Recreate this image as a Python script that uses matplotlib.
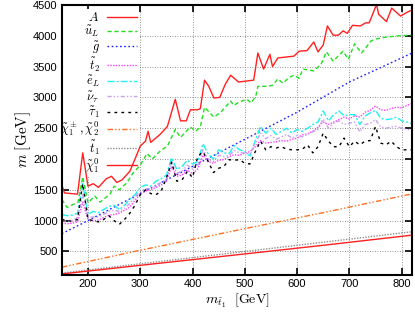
import numpy as np
import matplotlib
matplotlib.use("Agg")
import matplotlib.pyplot as plt

plt.rcParams['font.family'] = ['Liberation Sans', 'DejaVu Sans']
plt.rcParams['mathtext.fontset'] = 'cm'

# A (heavy Higgs)
x_A = [150, 155, 180, 190, 200, 210, 220, 235, 245, 255, 265, 280, 290, 300, 310,
       315, 320, 338, 352, 367, 377, 388, 396, 410, 415, 423, 431, 441, 452, 463,
       473, 488, 517, 525, 536, 548, 553, 563, 594, 604, 619, 632, 640, 650, 658,
       669, 679, 688, 696, 706, 721, 731, 738, 752, 756, 771, 781, 798, 810, 820]
m_A = [1580, 1450, 1430, 2100, 1560, 1600, 1540, 1680, 1720, 1620, 1660, 1800, 2000, 2210, 2290,
       2450, 2270, 2400, 2530, 2970, 2620, 2620, 2800, 2800, 2820, 3280, 3180, 2990, 3000, 3220,
       3360, 3250, 3280, 3720, 3460, 3700, 3500, 3640, 3670, 3750, 3760, 3900, 3740, 3850, 4160,
       4010, 4010, 4080, 4040, 4170, 4160, 4210, 4210, 4510, 4350, 4230, 4450, 4320, 4380, 4420]

# u_L
x_uL = [150, 160, 181, 190, 200, 213, 223, 242, 250, 260, 275, 285, 300, 313, 323,
        338, 352, 367, 377, 396, 406, 415, 423, 441, 454, 473, 479, 488, 504, 512,
        521, 525, 544, 554, 563, 573, 584, 594, 604, 611, 632, 646, 656, 669, 688,
        698, 710, 723, 742, 752, 771, 794, 820]
m_uL = [1345, 1215, 1300, 1710, 1290, 1400, 1300, 1430, 1560, 1500, 1620, 1760, 1900, 2090, 2000,
        2130, 2210, 2480, 2350, 2520, 2450, 2520, 2840, 2680, 2760, 2940, 2870, 2920, 2970, 2910,
        3020, 3180, 3180, 3200, 3300, 3230, 3320, 3360, 3310, 3460, 3430, 3540, 3740, 3590, 3750,
        3620, 3870, 3720, 3920, 3950, 3980, 4000, 4010]

# gluino
x_g = [150, 200, 300, 400, 500, 600, 700, 820]
m_g = [790, 1000, 1440, 1880, 2320, 2760, 3250, 3720]

# common grid for the slepton / stop2 band
x_mid = list(range(150, 830, 10))
m_t2 = [960, 950, 960, 980, 1300, 1020, 1000, 1010, 1050, 1090, 1100, 1120, 1170, 1220, 1330,
        1430, 1480, 1500, 1540, 1580, 1640, 1880, 1720, 1740, 1820, 1760, 1840, 2060, 1960, 1930,
        1980, 1990, 2040, 2070, 2060, 2100, 2120, 2200, 2300, 2260, 2270, 2280, 2300, 2290, 2320,
        2340, 2390, 2410, 2450, 2520, 2600, 2560, 2600, 2640, 2680, 2650, 2700, 2680, 2760, 2790,
        2860, 2800, 2790, 2820, 2840, 2830, 2870, 2900]
m_eL = [1100, 1080, 1090, 1120, 1600, 1100, 1150, 1130, 1180, 1230, 1250, 1180, 1250, 1350, 1420,
        1540, 1580, 1560, 1640, 1680, 1740, 2020, 1830, 1880, 1980, 1920, 1960, 2250, 2080, 2000,
        2150, 2100, 2090, 2220, 2150, 2120, 2050, 2300, 2530, 2420, 2500, 2400, 2450, 2500, 2420,
        2480, 2450, 2500, 2560, 2600, 2780, 2620, 2720, 2780, 2700, 2720, 2720, 2560, 2700, 2750,
        2790, 2660, 2640, 2650, 2680, 2620, 2600, 2580]
m_nu = [1000, 990, 1000, 1050, 1420, 1050, 1060, 1060, 1100, 1150, 1170, 1150, 1200, 1280, 1380,
        1480, 1520, 1520, 1580, 1620, 1680, 1950, 1770, 1800, 1900, 1840, 1900, 2150, 2000, 1960,
        2060, 2040, 2060, 2140, 2100, 2100, 2080, 2250, 2420, 2330, 2380, 2320, 2360, 2400, 2340,
        2380, 2360, 2400, 2440, 2480, 2650, 2500, 2580, 2620, 2560, 2580, 2600, 2440, 2560, 2580,
        2640, 2520, 2500, 2520, 2530, 2500, 2480, 2470]
m_tau = [1020, 1000, 990, 1020, 1600, 1020, 1000, 980, 1020, 1080, 1000, 940, 1020, 1120, 1250,
         1420, 1500, 1440, 1420, 1480, 1690, 1950, 1640, 1660, 1800, 1700, 2040, 2120, 1960, 1780,
         1850, 1880, 1990, 1980, 1990, 1930, 1920, 2120, 2290, 2150, 2200, 2180, 2200, 2160, 2150,
         2150, 2160, 2230, 2100, 2200, 2420, 2290, 2200, 2200, 2340, 2200, 2290, 2230, 2290, 2300,
         2530, 2260, 2230, 2290, 2200, 2150, 2150, 2150]

# light states
x_low = [150, 300, 500, 650, 820]
m_chipm = [245, 520, 870, 1130, 1435]
m_t1 = [150, 300, 500, 650, 820]
m_chi0 = [135, 275, 460, 600, 765]

fig = plt.figure(figsize=(4.15, 3.12), dpi=100)
ax = fig.add_axes([0.149, 0.119, 0.844, 0.865])

ax.plot(x_A, m_A, color='#ff2020', lw=1.0, label=r'$A$')
ax.plot(x_uL, m_uL, color='#20e020', lw=1.0, ls=(0, (3, 2)), label=r'$\tilde{u}_L$')
ax.plot(x_g, m_g, color='#2020ff', lw=1.0, ls=(0, (1.2, 1.8)), label=r'$\tilde{g}$')
ax.plot(x_mid, m_t2, color='#ff40ff', lw=1.0, ls=(0, (1, 1)), label=r'$\tilde{t}_2$')
ax.plot(x_mid, m_eL, color='#20f0f0', lw=1.0, ls=(0, (5, 1.5, 1.5, 1.5)), label=r'$\tilde{e}_L$')
ax.plot(x_mid, m_nu, color='#c8a0f0', lw=1.0, ls=(0, (3, 1.5, 1, 1.5, 1, 1.5)), label=r'$\tilde{\nu}_\tau$')
ax.plot(x_mid, m_tau, color='black', lw=1.0, ls=(0, (2, 3)), label=r'$\tilde{\tau}_1$')
ax.plot(x_low, m_chipm, color='#ff7020', lw=1.0, ls=(0, (4, 1.5, 1, 1.5, 1, 1.5)),
        label=r'$\tilde{\chi}_1^\pm, \tilde{\chi}_2^0$')
ax.plot(x_low, m_t1, color='#909090', lw=1.0, ls=(0, (1, 1)), label=r'$\tilde{t}_1$')
ax.plot(x_low, m_chi0, color='#ff2020', lw=1.0, label=r'$\tilde{\chi}_1^0$')

ax.set_xlim(150, 820)
ax.set_ylim(120, 4500)
ax.set_xticks([200, 300, 400, 500, 600, 700, 800])
ax.set_yticks(np.arange(500, 4501, 500))
ax.set_axisbelow(True)
ax.grid(True, color='#707070', ls=(0, (1, 2)), lw=0.6)
ax.tick_params(direction='in', length=5, width=1.2, top=True, right=True, labelsize=8, pad=3)
for s in ax.spines.values():
    s.set_linewidth(1.5)

ax.set_xlabel(r'$m_{\tilde{t}_1}\ \ \mathrm{[GeV]}$', fontsize=10, labelpad=2)
ax.set_ylabel(r'$m\ \mathrm{[GeV]}$', fontsize=11, labelpad=0)

leg = ax.legend(loc='upper right', bbox_to_anchor=(0.22, 0.985), markerfirst=False, fontsize=9,
                frameon=True, framealpha=1, edgecolor='none', facecolor='white', fancybox=False,
                handlelength=2.4, handletextpad=0.6, labelspacing=0.0, borderpad=0.15,
                borderaxespad=0.0)
leg.set_zorder(1.8)

fig.savefig('out.png', dpi=100)
